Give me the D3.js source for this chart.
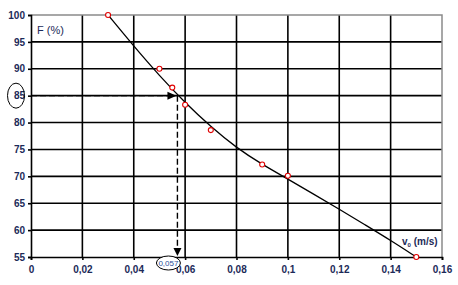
<!DOCTYPE html>
<html>
<head>
<meta charset="utf-8">
<script src="https://cdn.jsdelivr.net/npm/d3@7"></script>
<style>
  body { margin: 0; background: #fff; }
  svg { display: block; }
  .tick text { font-family: "Liberation Sans", Arial, sans-serif; font-weight: bold; font-size: 10px; fill: #1c2a58; }
</style>
</head>
<body>
<div id="chart"></div>
<script>
// measured points (red markers)
var pointV = [0.03, 0.05, 0.055, 0.06, 0.07, 0.09, 0.1, 0.15];
var pointF = [100, 90, 86.5, 83.3, 78.6, 72.2, 70.1, 55];

// trend curve
var curveV = [0.03, 0.04, 0.05, 0.06, 0.07, 0.08, 0.09, 0.1, 0.11, 0.12, 0.13, 0.14, 0.15];
var curveF = [100, 94.2, 88.7, 83.7, 79.2, 75.3, 72.2, 69.5, 66.7, 63.9, 61.0, 58.1, 55];

// tick values
var xTicks = [0, 0.02, 0.04, 0.06, 0.08, 0.1, 0.12, 0.14, 0.16];
var yTicks = [55, 60, 65, 70, 75, 80, 85, 90, 95, 100];

// read-off value
var readF = 85, readV = 0.057;

var W = 458, H = 285;
var margin = {top: 15, right: 16, bottom: 28, left: 31},
  width = W - margin.left - margin.right,
  height = H - margin.top - margin.bottom;

var x = d3.scaleLinear().domain([0, 0.16]).range([0, width]);
var y = d3.scaleLinear().domain([55, 100]).range([height, 0]);

var svg = d3.select("#chart").append("svg")
    .attr("width", W).attr("height", H)
  .append("g")
    .attr("transform", "translate(" + margin.left + "," + margin.top + ")");

var fmt = function(d) { return String(d).replace(".", ","); };

// grid
svg.append("g").selectAll("line")
  .data(yTicks.filter(function(d) { return d > 55 && d < 100; }))
  .enter().append("line")
    .attr("x1", 0).attr("x2", width)
    .attr("y1", function(d) { return y(d); }).attr("y2", function(d) { return y(d); })
    .attr("stroke", "#000").attr("stroke-width", 1.6);
svg.append("g").selectAll("line")
  .data(xTicks.filter(function(d) { return d > 0 && d < 0.16; }))
  .enter().append("line")
    .attr("y1", 0).attr("y2", height)
    .attr("x1", function(d) { return x(d); }).attr("x2", function(d) { return x(d); })
    .attr("stroke", "#000").attr("stroke-width", 1.6);

// plot border top / right
svg.append("path")
  .attr("d", "M0,0H" + width + "V" + height)
  .attr("fill", "none").attr("stroke", "#8a8a8a").attr("stroke-width", 1.5);

// axes
var xAxis = svg.append("g")
  .attr("transform", "translate(0," + height + ")")
  .call(d3.axisBottom(x).tickValues(xTicks).tickFormat(fmt).tickSize(3).tickPadding(6));
var yAxis = svg.append("g")
  .call(d3.axisLeft(y).tickValues(yTicks).tickSize(3).tickPadding(3));
[xAxis, yAxis].forEach(function(a) {
  a.select(".domain").attr("stroke", "#000").attr("stroke-width", 1.6);
  a.selectAll(".tick line").attr("stroke", "#000").attr("stroke-width", 1.6);
});

// trend curve
var curve = curveV.map(function(v, i) { return [v, curveF[i]]; });
svg.append("path")
  .datum(curve)
  .attr("fill", "none").attr("stroke", "#000").attr("stroke-width", 1.3)
  .attr("d", d3.line().x(function(d) { return x(d[0]); }).y(function(d) { return y(d[1]); })
    .curve(d3.curveBasis));

// dashed read-off lines
svg.append("line")
  .attr("x1", 0).attr("x2", x(readV) - 8)
  .attr("y1", y(readF)).attr("y2", y(readF))
  .attr("stroke", "#000").attr("stroke-width", 1.4).attr("stroke-dasharray", "6,3");
svg.append("path")
  .attr("d", "M" + (x(readV) - 1) + "," + y(readF) + "l-9,-4l0,8z").attr("fill", "#000");
svg.append("line")
  .attr("x1", x(readV)).attr("x2", x(readV))
  .attr("y1", y(readF)).attr("y2", height - 7)
  .attr("stroke", "#000").attr("stroke-width", 1.4).attr("stroke-dasharray", "6,3");
svg.append("path")
  .attr("d", "M" + x(readV) + "," + (height - 1) + "l-4,-8l8,0z").attr("fill", "#000");

// markers
svg.append("g").selectAll("circle")
  .data(pointV)
  .enter().append("circle")
    .attr("cx", function(d) { return x(d); })
    .attr("cy", function(d, i) { return y(pointF[i]); })
    .attr("r", 2.5)
    .attr("fill", "#fff").attr("stroke", "#e00000").attr("stroke-width", 1.1);

// ellipse around the 85 label
svg.append("ellipse")
  .attr("cx", -15).attr("cy", y(readF))
  .attr("rx", 8.5).attr("ry", 12.5)
  .attr("fill", "none").attr("stroke", "#000").attr("stroke-width", 1);

// read value label under the axis
svg.append("ellipse")
  .attr("cx", x(readV) - 9).attr("cy", height + 6)
  .attr("rx", 12).attr("ry", 7)
  .attr("fill", "#fff").attr("stroke", "#000").attr("stroke-width", 1);
svg.append("text")
  .attr("x", x(readV) - 9).attr("y", height + 9)
  .attr("text-anchor", "middle")
  .style("font-family", "Liberation Sans, Arial, sans-serif").style("font-size", "8px")
  .style("fill", "#2a4f9a")
  .text(fmt(readV));

// axis titles
svg.append("text")
  .attr("x", 6).attr("y", 19)
  .style("font-family", "Liberation Sans, Arial, sans-serif").style("font-size", "11px")
  .style("fill", "#1c2a58")
  .text("F (%)");
var t = svg.append("text")
  .attr("x", width - 40).attr("y", y(57.3))
  .style("font-family", "Liberation Sans, Arial, sans-serif").style("font-size", "10px")
  .style("font-weight", "bold").style("fill", "#1c2a58");
t.append("tspan").text("v");
t.append("tspan").attr("dy", 2).style("font-size", "6px").text("0");
t.append("tspan").attr("dy", -2).text(" (m/s)");
</script>
</body>
</html>
